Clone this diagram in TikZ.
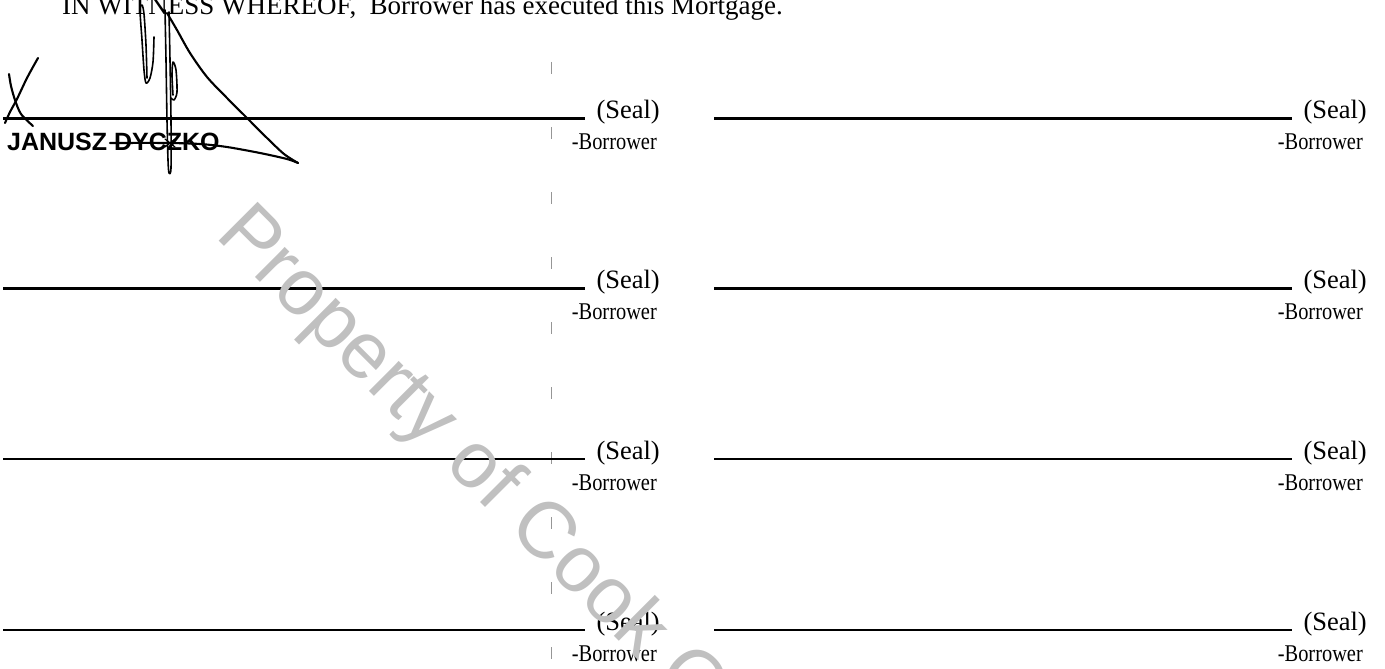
\documentclass[tikz,border=0pt]{standalone}
\usepackage{fontspec}
\setmainfont{Liberation Serif}
\newfontfamily\sansfont{Liberation Sans}
\definecolor{wmgray}{RGB}{192,192,192}
\definecolor{dashgray}{RGB}{150,150,150}
\begin{document}
\begin{tikzpicture}[x=1pt,y=-1pt,
  sigline/.style={line width=2.2pt},
  seal/.style={font=\fontsize{26.5}{28}\selectfont, anchor=base east, inner sep=0pt},
  borrower/.style={font=\fontsize{24}{26}\selectfont, xscale=0.85, anchor=base east, inner sep=0pt},
  ink/.style={line width=2.1pt, line cap=round, line join=round},
  foldline/.style={dashgray, line width=0.8pt, dash pattern=on 12pt off 53pt},
  watermark/.style={anchor=base west, inner sep=0pt, rotate=-45, text=wmgray,
    font=\sansfont\fontsize{80}{80}\selectfont}]
\useasboundingbox (0,0) rectangle (1385,669);

% heading
\node[anchor=base west, inner sep=0pt, font=\fontsize{27}{30}\selectfont] (head) at (62,15)
  {IN WITNESS WHEREOF,\ \ Borrower has executed this Mortgage.};

% fold line
\coordinate (dtop) at (551,62);
\coordinate (dbot) at (551,669);
\draw[foldline] (dtop) -- (dbot);

% signature rows
\foreach \y [count=\i] in {118.5,288.5,459,630} {
  \coordinate (la\i) at (3,\y);
  \coordinate (lb\i) at (585,\y);
  \coordinate (ra\i) at (714,\y);
  \coordinate (rb\i) at (1292,\y);
  \draw[sigline] (la\i) -- (lb\i);
  \draw[sigline] (ra\i) -- (rb\i);
  \node[seal] (sl\i) at (660,\y) {(Seal)};
  \node[borrower] (bl\i) at (657,\y+31) {-Borrower};
  \node[seal] (sr\i) at (1367,\y) {(Seal)};
  \node[borrower] (br\i) at (1363,\y+31) {-Borrower};
}

% printed name
\node[anchor=base west, inner sep=0pt, font=\sansfont\bfseries\fontsize{25}{26}\selectfont] (name) at (7,150) {JANUSZ DYCZKO};

% handwritten X
\draw[ink] plot[smooth] coordinates {(38,58) (27,78) (17,99) (10,112) (5,123)};
\draw[ink] plot[smooth] coordinates {(9,74) (11,86) (15,100) (21,114) (33,126)};

% signature strokes
\draw[ink, line width=1.6pt] plot[smooth, tension=0.5] coordinates
  {(154,37) (153,62) (150,78) (146,83) (144,70) (142,40) (140,10) (142,5) (144,14) (146,45) (147,78)};
\draw[ink, line width=1.6pt] plot[smooth, tension=0.5] coordinates
  {(165,10) (166,60) (167,120) (168,160) (169,173) (171,168) (171,120) (170,60) (169,12)};
\draw[ink, line width=1.6pt] plot[smooth, tension=0.5] coordinates
  {(171,98) (174,100) (177,92) (176,70) (173,62) (172,75) (173,95)};
\draw[ink] plot[smooth, tension=0.5] coordinates
  {(167,13) (177,30) (190,53) (207,77) (227,98) (247,118) (267,138) (284,154) (298,163)};
\draw[ink] plot[smooth, tension=0.5] coordinates
  {(298,163) (287,159) (260,153) (227,147) (200,144) (167,143) (110,143)};
\draw[ink, line width=1.2pt] (165,139) -- (175,147) (175,139) -- (165,147);

% watermark
\node[watermark] (wm) at (214,236) {Property of Cook C};
\end{tikzpicture}
\end{document}
